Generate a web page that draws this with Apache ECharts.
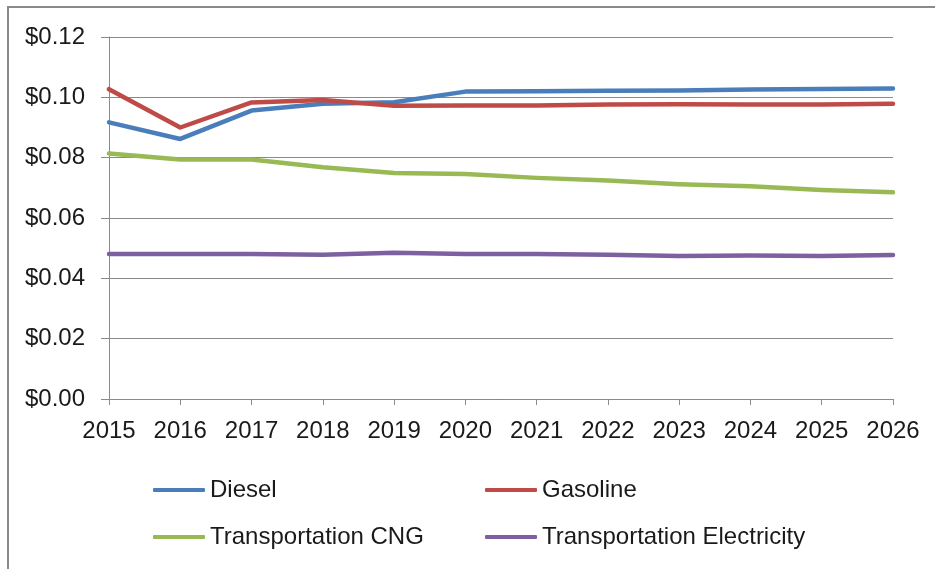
<!DOCTYPE html>
<html>
<head>
<meta charset="utf-8">
<script src="https://cdn.jsdelivr.net/npm/echarts@6/dist/echarts.min.js"></script>
<style>
  html, body { margin: 0; padding: 0; background: #fff; }
  #chart { width: 935px; height: 569px; }
  .frame {
    position: absolute; left: 7px; top: 6px; right: 0; bottom: 0;
    border-left: 2px solid #8a8a8a; border-top: 2px solid #8a8a8a;
    pointer-events: none;
  }
</style>
</head>
<body>
<div id="chart"></div>
<div class="frame"></div>
<script>
// cost per mile, 2015-2026
const years = ['2015', '2016', '2017', '2018', '2019', '2020', '2021', '2022', '2023', '2024', '2025', '2026']
const diesel = [0.0917, 0.0862, 0.0956, 0.0979, 0.0984, 0.1019, 0.1020, 0.1022, 0.1023, 0.1026, 0.1028, 0.1029]
const gasoline = [0.1027, 0.0900, 0.0983, 0.0991, 0.0972, 0.0973, 0.0973, 0.0976, 0.0977, 0.0976, 0.0976, 0.0979]
const cng = [0.0814, 0.0794, 0.0794, 0.0768, 0.0749, 0.0746, 0.0733, 0.0724, 0.0712, 0.0705, 0.0693, 0.0685]
const electricity = [0.0481, 0.0481, 0.0481, 0.0478, 0.0485, 0.0481, 0.0481, 0.0478, 0.0474, 0.0476, 0.0474, 0.0477]

const FONT = 'Liberation Sans'
const COLORS = { diesel: '#4a7ebb', gasoline: '#be4b48', cng: '#98b954', elec: '#7d60a0' }

function lineSeries(name, data, color) {
  return {
    name, type: 'line', data,
    symbol: 'none',
    lineStyle: { width: 4.5, color, cap: 'round', join: 'round' },
    itemStyle: { color },
  }
}

const legendBase = {
  orient: 'vertical',
  top: 478,
  padding: 0,
  itemWidth: 52, itemHeight: 4,
  itemGap: 23,
  icon: 'roundRect',
  textStyle: { fontFamily: FONT, fontSize: 24, color: '#1a1a1a' },
}

const chart = echarts.init(document.getElementById('chart'))
chart.setOption({
  animation: false,
  color: [COLORS.diesel, COLORS.gasoline, COLORS.cng, COLORS.elec],
  grid: { left: 109, right: 42, top: 37, bottom: 170, containLabel: false },
  legend: [
    { ...legendBase, left: 153, data: ['Diesel', 'Transportation CNG'] },
    { ...legendBase, left: 485, data: ['Gasoline', 'Transportation Electricity'] },
  ],
  xAxis: {
    type: 'category', data: years, boundaryGap: false,
    axisLine: { lineStyle: { color: '#8a8a8a', width: 1 } },
    axisTick: { show: true, length: 6, alignWithLabel: true, lineStyle: { color: '#8a8a8a' } },
    axisLabel: { fontFamily: FONT, fontSize: 24, color: '#1a1a1a', margin: 20 },
    splitLine: { show: false },
  },
  yAxis: {
    type: 'value', min: 0, max: 0.12, interval: 0.02,
    axisLine: { show: true, lineStyle: { color: '#8a8a8a', width: 1 } },
    axisTick: { show: true, length: 8, lineStyle: { color: '#8a8a8a' } },
    axisLabel: {
      fontFamily: FONT, fontSize: 24, color: '#1a1a1a', margin: 24,
      formatter: v => '$' + v.toFixed(2),
    },
    splitLine: { lineStyle: { color: '#8a8a8a', width: 1 } },
  },
  series: [
    lineSeries('Diesel', diesel, COLORS.diesel),
    lineSeries('Gasoline', gasoline, COLORS.gasoline),
    lineSeries('Transportation CNG', cng, COLORS.cng),
    lineSeries('Transportation Electricity', electricity, COLORS.elec),
  ],
})
</script>
</body>
</html>
